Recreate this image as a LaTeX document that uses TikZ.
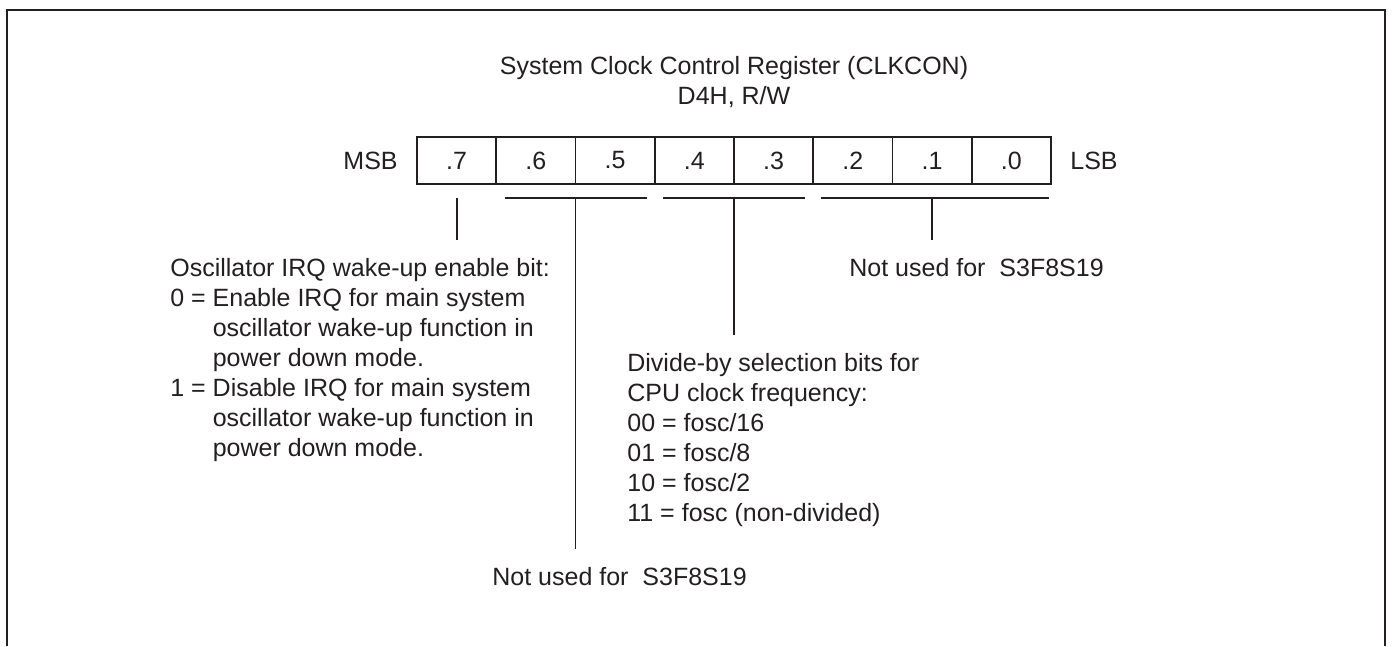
\documentclass[tikz,border=0pt]{standalone}
\usepackage{fontspec}
\setmainfont{Liberation Sans}
\usepackage{tikz}
\definecolor{ink}{RGB}{35,31,32}

\begin{document}
\begin{tikzpicture}[
  font=\fontsize{14.23}{17.07}\selectfont,
  cell/.style={draw=ink,text=ink,line width=1pt,minimum width=1.585cm,minimum height=0.94cm,inner sep=0pt},
  label/.style={text=ink,inner sep=0pt},
  desc/.style={text=ink,anchor=north west,align=left,inner sep=0pt},
  field/.style={draw=ink,line width=1.1pt}
]
  \useasboundingbox (0,0) rectangle (27.84,12.92);
  \draw[ink,line width=1.4pt] (0.14,0) -- (0.14,12.72) -- (27.70,12.72) -- (27.70,0);

  % title
  \node[label] (title) at (14.68,11.56) {System Clock Control Register (CLKCON)};
  \node[label] (addr) at (14.68,10.98) {D4H, R/W};

  % register bits
  \node[cell] (b7) at (9.1325,9.71) {.7};
  \node[cell] (b6) at (10.7175,9.71) {.6};
  \node[cell] (b5) at (12.3025,9.71) {.5};
  \node[cell] (b4) at (13.8875,9.71) {.4};
  \node[cell] (b3) at (15.4725,9.71) {.3};
  \node[cell] (b2) at (17.0575,9.71) {.2};
  \node[cell] (b1) at (18.6425,9.71) {.1};
  \node[cell] (b0) at (20.2275,9.71) {.0};
  \node[label,anchor=east] (msb) at (7.96,9.71) {MSB};
  \node[label,anchor=west] (lsb) at (21.40,9.71) {LSB};

  % bit fields
  \draw[field] (10.10,8.96) -- (12.94,8.96);
  \draw[field] (13.26,8.96) -- (16.10,8.96);
  \draw[field] (16.42,8.96) -- (20.98,8.96);
  \coordinate (f7) at (9.1325,8.96);
  \coordinate (f65) at (11.51,8.96);
  \coordinate (f43) at (14.68,8.96);
  \coordinate (f20) at (18.6425,8.96);

  % descriptions
  \node[desc] (osc) at (3.40,7.76) {Oscillator IRQ wake-up enable bit:\\
    0 = Enable IRQ for main system\\
    \phantom{0 = }oscillator wake-up function in\\
    \phantom{0 = }power down mode.\\
    1 = Disable IRQ for main system\\
    \phantom{1 = }oscillator wake-up function in\\
    \phantom{1 = }power down mode.};
  \node[desc] (nu20) at (16.98,7.76) {Not used for\ \ S3F8S19};
  \node[desc] (div) at (12.54,5.86) {Divide-by selection bits for\\
    CPU clock frequency:\\
    00 = fosc/16\\
    01 = fosc/8\\
    10 = fosc/2\\
    11 = fosc (non-divided)};
  \node[desc] (nu65) at (9.84,1.58) {Not used for\ \ S3F8S19};

  \draw[field,shorten >=0.36cm] (f7) -- (f7 |- osc.north);
  \draw[field,shorten >=0.36cm] (f65) -- (f65 |- nu65.north);
  \draw[field,shorten >=0.36cm] (f43) -- (f43 |- div.north);
  \draw[field,shorten >=0.36cm] (f20) -- (f20 |- nu20.north);
\end{tikzpicture}
\end{document}
